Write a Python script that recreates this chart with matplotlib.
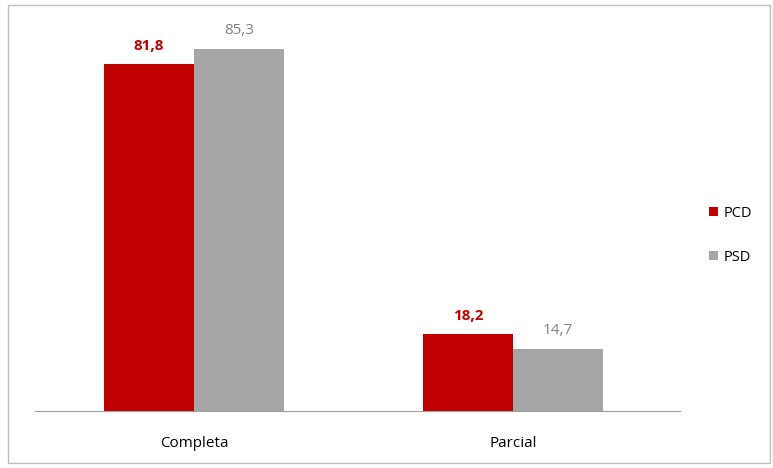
import numpy as np
import matplotlib.pyplot as plt
from matplotlib.patches import Rectangle

categories = ['Completa', 'Parcial']
pcd = [81.8, 18.2]
psd = [85.3, 14.7]
series_names = ['PCD', 'PSD']

red = '#C00000'
gray = '#A6A6A6'

plt.rcParams['font.family'] = ['Open Sans', 'DejaVu Sans']

fig = plt.figure(figsize=(7.73, 4.68), dpi=100)
ax = fig.add_axes([0.0453, 0.1218, 0.8344, 0.816])

x = np.arange(len(categories))
w = 0.283
b1 = ax.bar(x - w/2, pcd, w, color=red, label=series_names[0])
b2 = ax.bar(x + w/2, psd, w, color=gray, label=series_names[1])

for rect, v in zip(b1, pcd):
	ax.text(rect.get_x() + rect.get_width()/2, v + 2.5, f'{v:.1f}'.replace('.', ','),
		ha='center', va='bottom', color=red, fontsize=11, fontweight='bold')
for rect, v in zip(b2, psd):
	ax.text(rect.get_x() + rect.get_width()/2, v + 2.5, f'{v:.1f}'.replace('.', ','),
		ha='center', va='bottom', color='#808080', fontsize=11)

ax.set_xlim(-0.498, 1.523)
ax.set_ylim(0, 90)
ax.set_xticks(x)
ax.set_xticklabels(categories, fontsize=11)
ax.tick_params(axis='x', length=0, pad=18)
ax.set_yticks([])
for s in ['top', 'right', 'left']:
	ax.spines[s].set_visible(False)
ax.spines['bottom'].set_color('#A0A0A0')
ax.patch.set_alpha(0)

ax.legend(loc='center left', bbox_to_anchor=(1.025, 0.46), frameon=False,
	fontsize=10.5, handlelength=0.6, handleheight=0.6, handletextpad=0.4, labelspacing=2.0)

fig.patches.append(Rectangle((8/773, 5/468), 762/773, 458/468, transform=fig.transFigure,
	fill=False, edgecolor='#BFBFBF', linewidth=1))

fig.savefig('out.png', dpi=100)
